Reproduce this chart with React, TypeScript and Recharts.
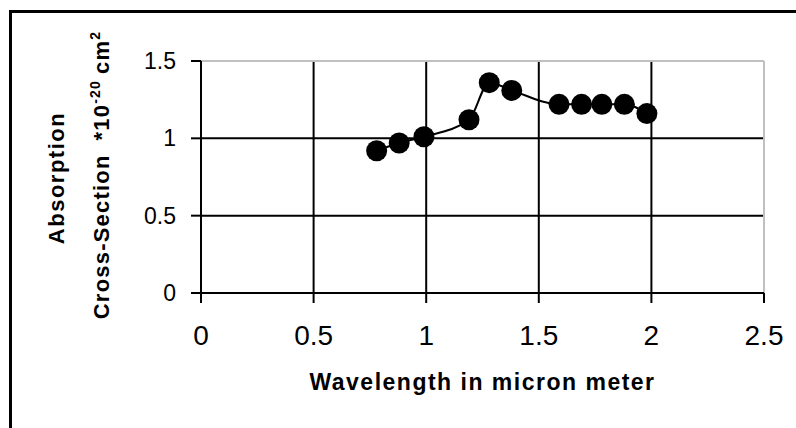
import React from 'react';
import {
  LineChart,
  Line,
  XAxis,
  YAxis,
  CartesianGrid,
  ReferenceLine,
  Label,
} from 'recharts';

// Values
const wavelength = [0.78, 0.88, 0.99, 1.19, 1.28, 1.38, 1.59, 1.69, 1.78, 1.88, 1.98];
const crossSection = [0.92, 0.97, 1.01, 1.12, 1.36, 1.31, 1.22, 1.22, 1.22, 1.22, 1.16];
const xTicks = [0, 0.5, 1, 1.5, 2, 2.5];
const yTicks = [0, 0.5, 1, 1.5];

const chartData = wavelength.map((w, i) => ({ w, cs: crossSection[i] }));

const FONT = '"Liberation Sans", Arial, sans-serif';

const XTitle = ({ viewBox }: any) => {
  const cx = viewBox.x + viewBox.width / 2;
  return (
    <text
      x={cx}
      y={390}
      textAnchor="middle"
      fontFamily={FONT}
      fontWeight="bold"
      fontSize={23}
      letterSpacing={1.5}
      fill="#000"
    >
      Wavelength in micron meter
    </text>
  );
};

const YTitle = () => {
  return (
    <g fontFamily={FONT} fontWeight="bold" fill="#000">
      <text
        x={64}
        y={178}
        transform="rotate(-90 64 178)"
        textAnchor="middle"
        fontSize={22}
        letterSpacing={1.5}
      >
        Absorption
      </text>
      <text
        x={109}
        y={175}
        transform="rotate(-90 109 175)"
        textAnchor="middle"
        fontSize={22}
        letterSpacing={1.2}
      >
        <tspan>Cross-Section</tspan>
        <tspan dx={14}>*</tspan>
        <tspan>10</tspan>
        <tspan fontSize={14} dy={-9}>-20</tspan>
        <tspan dy={9} dx={6}>cm</tspan>
        <tspan fontSize={14} dy={-9}>2</tspan>
      </text>
    </g>
  );
};

export default function App() {
  return (
    <div
      style={{
        position: 'fixed',
        left: 0,
        top: 0,
        width: 796,
        height: 428,
        background: '#fff',
        overflow: 'hidden',
      }}
    >
      <div
        style={{
          position: 'absolute',
          left: 9,
          top: 10,
          width: 820,
          height: 440,
          border: '3px solid #000',
        }}
      />
      <div style={{ position: 'absolute', left: 0, top: 0 }}>
        <LineChart
          width={796}
          height={428}
          data={chartData}
          margin={{ top: 61, right: 32, left: 0, bottom: 0 }}
        >
          <CartesianGrid stroke="#000" strokeWidth={2} />
          <XAxis
            dataKey="w"
            type="number"
            domain={[0, 2.5]}
            ticks={xTicks}
            height={135}
            tickSize={10}
            tickMargin={22}
            axisLine={{ stroke: '#000', strokeWidth: 2 }}
            tickLine={{ stroke: '#000', strokeWidth: 2 }}
            tick={{ fill: '#000', fontSize: 28, fontFamily: FONT }}
          >
            <Label content={<XTitle />} />
          </XAxis>
          <YAxis
            type="number"
            domain={[0, 1.5]}
            ticks={yTicks}
            width={201}
            tickSize={10}
            tickMargin={15}
            axisLine={{ stroke: '#000', strokeWidth: 2 }}
            tickLine={{ stroke: '#000', strokeWidth: 2 }}
            tick={{ fill: '#000', fontSize: 23, fontFamily: FONT }}
          >
            <Label content={<YTitle />} />
          </YAxis>
          <ReferenceLine y={1.5} stroke="#c0c0c0" strokeWidth={2} />
          <ReferenceLine x={2.5} stroke="#c0c0c0" strokeWidth={2} />
          <Line
            type="monotone"
            dataKey="cs"
            stroke="#000"
            strokeWidth={2}
            dot={{ r: 10.5, fill: '#000', stroke: 'none' }}
            activeDot={false}
            isAnimationActive={false}
          />
        </LineChart>
      </div>
    </div>
  );
}
